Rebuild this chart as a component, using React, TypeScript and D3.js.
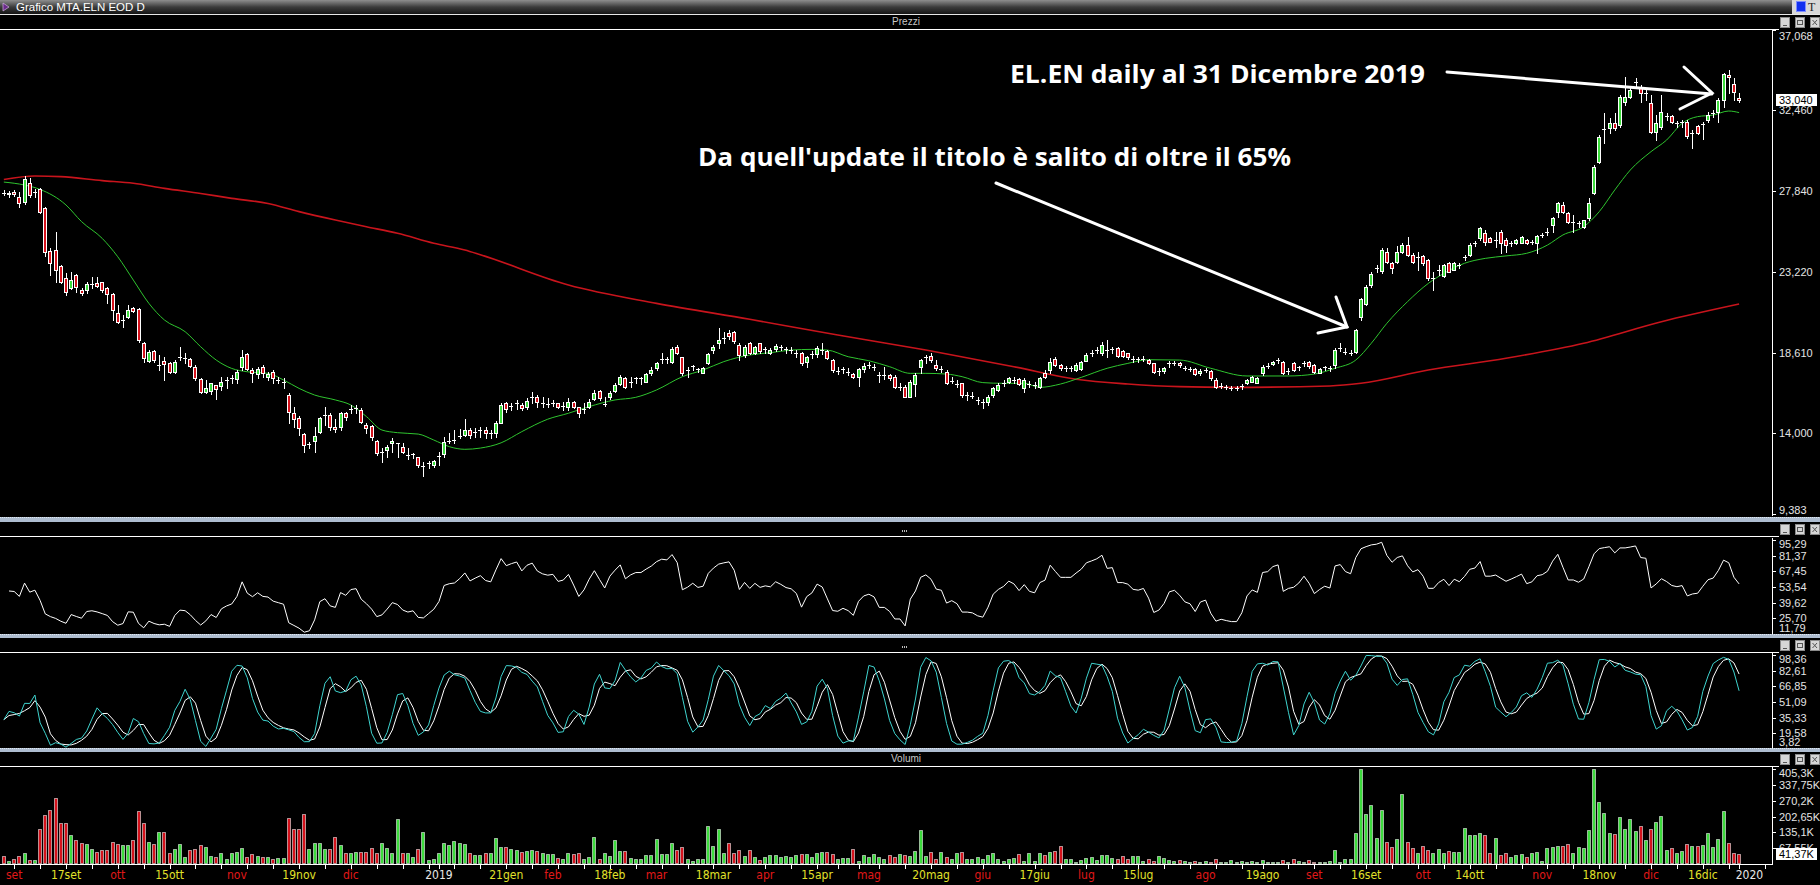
import React from 'react';
import * as d3 from 'd3';

const WIDTH = 1820;
const HEIGHT = 885;

// trading calendar (Borsa Italiana closures in the period)
const FIRST_DAY = '2018-08-30';
const HOLIDAYS = ['2018-12-24', '2018-12-25', '2018-12-26', '2018-12-31', '2019-01-01', '2019-04-19',
    '2019-04-22', '2019-05-01', '2019-08-15', '2019-12-24', '2019-12-25', '2019-12-26'];

// daily bars, 30 Aug 2018 .. 30 Dec 2019 (euro)
const OPEN = [
    27.75, 27.65, 27.8, 27.52, 27.23, 28.28, 27.8, 27.93, 26.85, 24.43,
    24.47, 23.55, 22.85, 22.28, 23.04, 22.18, 22.18, 22.55, 22.6, 22.62,
    22.28, 21.93, 20.85, 20.45, 20.66, 21.13, 21.08, 19.17, 18.14, 18.7,
    17.9, 18.12, 17.99, 17.52, 18.33, 18.27, 18.22, 17.76, 17.08, 16.37,
    16.43, 16.73, 16.7, 17.04, 17.13, 17.1, 17.8, 18.5, 17.61, 17.38,
    17.8, 17.2, 17.51, 17.04, 16.95, 16.18, 15.17, 14.85, 13.95, 13.38,
    13.57, 14.09, 15.04, 15.04, 14.33, 14.37, 15.17, 15.36, 15.42, 15.32,
    14.47, 14.41, 13.57, 12.94, 13.04, 13.42, 13.42, 13.23, 12.75, 12.8,
    12.62, 12.13, 12.28, 12.18, 12.71, 12.8, 13.57, 13.61, 13.84, 13.9,
    14.18, 14.05, 14.18, 14.18, 13.99, 13.99, 14.6, 15.71, 15.55, 15.7,
    15.61, 15.52, 16.05, 16.09, 15.71, 15.67, 15.71, 15.71, 15.57, 15.52,
    15.8, 15.48, 15.36, 15.52, 15.93, 16.41, 15.67, 16.05, 16.43, 16.81,
    17.13, 16.95, 17.13, 17.13, 16.95, 17.46, 17.71, 18.24, 18.22, 18.09,
    18.94, 18.33, 17.61, 17.84, 17.65, 17.46, 17.99, 18.75, 19.14, 19.46,
    19.7, 19.8, 19.04, 18.47, 19.18, 18.6, 19.14, 18.79, 18.56, 18.79,
    18.9, 18.79, 18.75, 18.6, 18.6, 18.09, 18.5, 18.52, 18.75, 18.7,
    18.18, 17.56, 17.65, 17.52, 17.38, 17.23, 17.65, 17.9, 17.8, 17.33,
    17.33, 17.33, 17.23, 16.66, 16.66, 16.09, 16.81, 17.76, 18.37, 18.41,
    17.9, 17.65, 17.52, 17.0, 16.81, 16.85, 16.18, 16.12, 15.9, 15.8,
    15.8, 16.18, 16.47, 16.89, 16.95, 17.04, 17.08, 16.56, 16.81, 16.76,
    16.66, 17.42, 17.61, 18.22, 17.9, 17.71, 17.71, 17.61, 17.65, 18.14,
    18.6, 18.75, 18.56, 18.75, 18.79, 18.85, 18.71, 18.56, 18.24, 18.22,
    18.26, 18.18, 17.99, 17.57, 17.57, 17.99, 18.03, 18.0, 17.71, 17.65,
    17.65, 17.42, 17.61, 17.57, 17.04, 16.7, 16.62, 16.56, 16.56, 16.7,
    16.85, 16.95, 16.89, 17.42, 17.84, 17.94, 18.18, 18.09, 17.57, 17.99,
    17.76, 18.03, 18.09, 17.9, 17.46, 17.76, 17.71, 17.9, 18.85, 18.66,
    18.6, 18.66, 20.62, 21.38, 22.47, 23.42, 23.29, 24.37, 23.7, 23.8,
    24.37, 24.75, 24.18, 24.09, 24.14, 23.9, 22.85, 23.33, 22.99, 23.75,
    23.33, 23.61, 24.05, 24.18, 24.89, 25.14, 25.42, 25.14, 25.04, 25.52,
    25.04, 24.89, 24.85, 24.89, 25.04, 24.94, 24.89, 25.33, 25.52, 25.9,
    26.66, 27.04, 26.6, 26.09, 25.99, 25.8, 26.28, 27.71, 29.52, 31.37,
    31.42, 31.7, 31.61, 32.94, 33.23, 34.09, 33.8, 33.42, 32.89, 31.23,
    31.51, 32.13, 32.13, 31.7, 31.8, 31.8, 31.13, 31.56, 31.66, 31.9,
    32.32, 32.37, 33.04, 34.47, 33.95, 33.13
];
const HIGH = [
    27.9, 27.85, 27.9, 27.8, 28.7, 28.56, 27.93, 28.0, 26.9, 24.56,
    25.5, 23.6, 23.13, 23.23, 23.1, 22.3, 22.66, 22.94, 22.94, 22.66,
    22.37, 21.99, 21.32, 20.75, 21.32, 21.23, 21.13, 19.23, 18.75, 18.75,
    18.47, 18.37, 18.08, 18.18, 18.94, 18.56, 18.28, 17.9, 17.13, 17.04,
    16.89, 16.75, 17.23, 17.23, 17.32, 17.61, 18.75, 18.56, 17.71, 17.8,
    17.9, 17.5, 17.61, 17.23, 17.13, 16.28, 15.48, 15.0, 13.99, 13.52,
    14.37, 14.95, 15.52, 15.14, 14.79, 15.23, 15.23, 15.61, 15.61, 15.42,
    14.56, 14.47, 13.61, 13.13, 13.32, 13.7, 13.42, 13.42, 13.13, 12.89,
    12.66, 12.37, 12.43, 12.47, 12.94, 13.8, 14.03, 14.18, 14.22, 14.79,
    14.28, 14.28, 14.33, 14.33, 14.18, 14.71, 15.7, 15.8, 15.75, 15.9,
    15.7, 16.0, 16.37, 16.18, 16.09, 16.0, 15.9, 15.75, 15.8, 16.0,
    15.85, 15.52, 15.71, 15.95, 16.47, 16.47, 16.09, 16.4, 16.85, 17.33,
    17.23, 17.23, 17.23, 17.23, 17.42, 17.76, 18.09, 18.56, 18.37, 18.9,
    19.04, 18.37, 17.8, 17.9, 17.71, 17.8, 18.56, 19.04, 19.99, 19.8,
    19.9, 19.85, 19.14, 19.04, 19.23, 19.0, 19.18, 18.95, 18.85, 19.09,
    19.04, 18.94, 18.9, 18.75, 18.65, 18.4, 18.7, 19.0, 19.14, 18.75,
    18.22, 17.8, 17.8, 17.7, 17.42, 17.71, 17.99, 18.05, 17.95, 17.52,
    17.8, 17.4, 17.33, 16.85, 16.76, 17.04, 17.42, 18.22, 18.47, 18.6,
    18.18, 17.85, 17.61, 17.23, 17.04, 16.89, 16.37, 16.37, 16.05, 15.95,
    16.18, 16.66, 16.85, 17.04, 17.23, 17.23, 17.15, 17.13, 17.0, 16.9,
    17.23, 17.61, 18.28, 18.37, 17.95, 17.85, 17.85, 17.99, 18.14, 18.56,
    18.75, 18.9, 19.23, 19.33, 18.95, 18.9, 18.75, 18.6, 18.4, 18.37,
    18.4, 18.22, 18.03, 17.71, 17.8, 18.14, 18.14, 18.09, 17.85, 17.8,
    17.7, 17.65, 17.7, 17.61, 17.13, 16.85, 16.75, 16.7, 16.7, 16.8,
    17.1, 17.25, 17.2, 17.9, 17.99, 18.15, 18.3, 18.14, 17.7, 18.05,
    17.85, 18.15, 18.14, 17.95, 17.7, 17.85, 17.85, 18.85, 19.14, 18.85,
    18.75, 19.95, 21.7, 22.47, 23.23, 23.61, 24.56, 24.56, 23.8, 24.7,
    24.85, 25.23, 24.3, 24.37, 24.2, 23.95, 23.23, 23.61, 23.65, 23.8,
    23.8, 23.75, 24.2, 24.85, 25.0, 25.8, 25.61, 25.2, 25.52, 25.61,
    25.14, 25.0, 25.1, 25.25, 25.1, 25.05, 25.33, 25.45, 25.7, 26.37,
    27.23, 27.23, 26.65, 26.47, 26.15, 26.2, 27.42, 29.33, 31.04, 32.28,
    32.0, 32.28, 33.33, 34.37, 33.8, 34.28, 33.9, 33.61, 33.33, 32.18,
    33.33, 32.28, 32.18, 31.85, 31.9, 31.9, 31.33, 31.61, 31.8, 32.37,
    32.47, 33.13, 34.56, 34.75, 34.28, 33.42
];
const LOW = [
    27.6, 27.5, 27.55, 26.95, 27.1, 27.5, 27.5, 26.56, 24.12, 23.04,
    22.66, 22.56, 21.9, 22.22, 22.08, 21.9, 21.99, 22.27, 22.33, 22.08,
    21.42, 20.47, 20.28, 20.09, 20.56, 20.94, 19.23, 18.08, 18.08, 18.08,
    17.6, 17.04, 17.42, 17.46, 18.18, 17.99, 17.76, 17.04, 16.31, 16.28,
    16.24, 15.93, 16.47, 16.56, 16.85, 16.85, 17.61, 17.61, 16.94, 17.13,
    17.23, 17.04, 16.85, 16.85, 16.56, 14.56, 14.37, 13.9, 12.94, 13.13,
    12.94, 14.03, 14.47, 14.18, 14.09, 14.18, 14.75, 15.14, 15.14, 14.56,
    13.99, 13.61, 12.75, 12.37, 12.66, 12.94, 12.66, 12.85, 12.5, 12.56,
    12.09, 11.55, 11.99, 12.09, 12.18, 12.66, 13.42, 13.42, 13.7, 13.84,
    13.7, 13.8, 13.8, 13.7, 13.7, 13.8, 14.56, 15.23, 15.3, 15.4,
    15.3, 15.4, 15.7, 15.52, 15.52, 15.5, 15.55, 15.45, 15.35, 15.33,
    15.45, 14.95, 15.14, 15.45, 15.9, 15.9, 15.56, 15.95, 16.37, 16.75,
    16.56, 16.66, 16.85, 16.8, 16.9, 17.33, 17.61, 17.99, 17.99, 17.99,
    18.52, 17.33, 17.23, 17.61, 17.52, 17.42, 17.95, 18.6, 18.85, 19.14,
    19.4, 19.14, 18.18, 18.37, 18.52, 18.5, 18.6, 18.6, 18.5, 18.7,
    18.75, 18.6, 18.6, 18.37, 17.9, 17.8, 18.3, 18.37, 18.5, 18.24,
    17.52, 17.4, 17.45, 17.35, 17.13, 16.7, 17.5, 17.7, 17.6, 16.95,
    17.1, 17.05, 16.56, 16.45, 16.05, 16.05, 16.13, 17.42, 18.0, 18.09,
    17.61, 17.5, 16.8, 16.85, 16.66, 16.09, 15.9, 15.99, 15.67, 15.42,
    15.61, 16.09, 16.4, 16.7, 16.85, 16.85, 16.75, 16.37, 16.65, 16.6,
    16.56, 17.13, 17.42, 17.84, 17.61, 17.55, 17.55, 17.55, 17.6, 18.1,
    18.4, 18.6, 18.47, 18.37, 18.6, 18.33, 18.37, 18.22, 18.05, 18.05,
    18.1, 17.95, 17.42, 17.33, 17.42, 17.8, 17.9, 17.8, 17.6, 17.55,
    17.3, 17.35, 17.5, 17.04, 16.56, 16.56, 16.5, 16.45, 16.45, 16.55,
    16.8, 16.9, 16.85, 17.35, 17.7, 17.9, 18.0, 17.4, 17.4, 17.55,
    17.6, 17.85, 17.75, 17.46, 17.42, 17.6, 17.55, 17.75, 18.7, 18.5,
    18.45, 18.6, 20.47, 21.33, 22.37, 23.23, 23.13, 23.7, 23.13, 23.7,
    24.3, 24.14, 23.71, 23.33, 23.6, 22.75, 22.18, 23.04, 22.9, 23.2,
    23.3, 23.45, 23.9, 24.1, 24.7, 25.04, 24.75, 24.9, 24.66, 24.28,
    24.37, 24.7, 24.8, 24.85, 24.8, 24.8, 24.32, 25.2, 25.35, 25.47,
    26.37, 26.6, 26.0, 25.52, 25.8, 25.75, 26.18, 27.66, 29.42, 30.56,
    31.13, 31.33, 31.52, 32.75, 33.13, 33.8, 32.94, 33.04, 31.13, 30.75,
    31.37, 31.9, 31.7, 31.5, 31.52, 30.85, 30.28, 31.1, 30.8, 31.8,
    32.04, 31.8, 32.66, 33.42, 33.04, 32.94
];
const CLOSE = [
    27.7, 27.7, 27.65, 27.17, 28.5, 27.6, 27.8, 26.66, 24.37, 23.74,
    23.32, 22.62, 22.08, 22.75, 22.37, 22.03, 22.5, 22.55, 22.4, 22.18,
    21.95, 21.04, 20.37, 20.45, 21.04, 21.0, 19.32, 18.27, 18.66, 18.18,
    17.9, 17.93, 17.52, 18.05, 18.33, 18.27, 17.84, 17.13, 16.37, 16.56,
    16.85, 16.5, 16.9, 17.04, 17.13, 17.48, 18.37, 17.67, 17.42, 17.65,
    17.42, 17.38, 17.13, 17.04, 16.95, 15.23, 14.79, 14.28, 13.32, 13.38,
    13.85, 14.85, 15.04, 14.37, 14.22, 15.17, 14.95, 15.36, 15.42, 14.66,
    14.28, 13.76, 12.85, 12.94, 13.23, 13.57, 13.42, 12.94, 12.75, 12.8,
    12.18, 12.13, 12.28, 12.43, 12.71, 13.47, 13.57, 13.61, 13.84, 14.18,
    13.9, 14.05, 14.18, 14.03, 13.99, 14.6, 15.6, 15.36, 15.55, 15.7,
    15.42, 15.86, 16.05, 15.8, 15.71, 15.67, 15.71, 15.52, 15.57, 15.8,
    15.52, 15.14, 15.36, 15.8, 16.28, 15.99, 15.67, 16.32, 16.76, 17.23,
    16.66, 16.95, 17.13, 17.13, 17.38, 17.61, 17.99, 18.24, 18.22, 18.79,
    18.56, 17.46, 17.61, 17.84, 17.65, 17.71, 18.5, 18.94, 19.33, 19.46,
    19.56, 19.29, 18.47, 18.9, 18.6, 18.9, 18.71, 18.79, 18.75, 18.99,
    18.9, 18.79, 18.75, 18.6, 18.03, 18.37, 18.5, 18.85, 18.75, 18.28,
    17.61, 17.56, 17.65, 17.52, 17.23, 17.65, 17.84, 17.9, 17.8, 17.33,
    17.33, 17.13, 16.66, 16.66, 16.09, 16.95, 17.33, 18.18, 18.37, 18.18,
    17.71, 17.65, 16.89, 17.0, 16.81, 16.18, 16.18, 16.12, 15.9, 15.8,
    16.09, 16.56, 16.76, 16.89, 17.13, 17.04, 16.81, 17.04, 16.81, 16.76,
    17.13, 17.23, 18.09, 17.9, 17.71, 17.71, 17.71, 17.9, 18.09, 18.47,
    18.6, 18.75, 19.04, 18.75, 18.79, 18.41, 18.41, 18.37, 18.24, 18.22,
    18.26, 18.03, 17.52, 17.57, 17.71, 17.99, 18.03, 17.9, 17.71, 17.65,
    17.38, 17.57, 17.61, 17.13, 16.66, 16.7, 16.62, 16.56, 16.56, 16.7,
    17.04, 17.19, 17.13, 17.8, 17.84, 18.09, 18.18, 17.46, 17.57, 17.61,
    17.76, 18.03, 17.84, 17.52, 17.65, 17.76, 17.71, 18.75, 18.85, 18.66,
    18.6, 19.9, 21.65, 22.37, 23.1, 23.42, 24.47, 23.8, 23.42, 24.37,
    24.75, 24.18, 23.8, 24.09, 23.7, 22.85, 22.85, 23.33, 23.61, 23.23,
    23.75, 23.61, 24.05, 24.75, 24.89, 25.71, 24.94, 24.94, 25.04, 24.89,
    24.75, 24.89, 25.04, 25.2, 24.85, 24.94, 25.27, 25.33, 25.52, 26.28,
    27.14, 26.66, 26.09, 26.09, 25.99, 26.18, 27.14, 29.23, 30.95, 31.37,
    31.75, 31.42, 33.23, 33.23, 33.61, 34.09, 33.46, 33.42, 31.23, 31.7,
    32.37, 32.13, 31.8, 31.7, 31.8, 30.99, 31.13, 31.18, 31.66, 32.18,
    32.32, 33.04, 34.51, 34.37, 33.51, 33.04
];
// volumes in thousands of shares
const VOLUME_K = [
    34, 14, 20, 34, 45, 17, 17, 150, 210, 230,
    280, 175, 175, 124, 103, 88, 85, 63, 53, 60,
    60, 95, 85, 81, 81, 103, 226, 175, 95, 85,
    138, 138, 45, 63, 85, 31, 60, 63, 81, 74,
    34, 31, 45, 20, 45, 53, 67, 28, 43, 34,
    28, 31, 20, 24, 24, 195, 150, 150, 215, 63,
    91, 88, 63, 63, 117, 81, 45, 48, 53, 53,
    53, 67, 45, 91, 67, 45, 190, 45, 48, 31,
    63, 138, 17, 20, 48, 91, 81, 100, 91, 85,
    45, 38, 38, 45, 48, 110, 74, 74, 63, 60,
    53, 57, 60, 57, 45, 43, 43, 24, 20, 45,
    43, 45, 20, 28, 117, 20, 45, 34, 103, 57,
    57, 24, 20, 20, 38, 38, 105, 43, 43, 91,
    60, 74, 20, 14, 20, 20, 160, 77, 150, 48,
    88, 48, 60, 34, 60, 28, 17, 28, 38, 38,
    31, 34, 28, 38, 43, 43, 31, 45, 53, 53,
    43, 20, 24, 24, 63, 14, 38, 31, 43, 31,
    20, 38, 31, 43, 38, 34, 57, 145, 34, 53,
    20, 53, 31, 20, 48, 53, 20, 20, 31, 20,
    38, 45, 20, 14, 20, 24, 43, 14, 45, 14,
    48, 38, 53, 57, 77, 20, 20, 10, 17, 24,
    28, 17, 38, 38, 24, 20, 34, 20, 34, 34,
    14, 20, 14, 34, 24, 17, 14, 17, 14, 10,
    14, 10, 14, 10, 20, 10, 10, 17, 10, 14,
    10, 14, 10, 17, 10, 10, 10, 17, 10, 20,
    14, 10, 17, 10, 8, 10, 12, 60, 8, 20,
    20, 131, 405, 215, 250, 110, 230, 95, 74, 105,
    300, 95, 67, 45, 77, 60, 45, 63, 48, 57,
    53, 53, 152, 124, 124, 131, 124, 45, 110, 38,
    48, 28, 38, 43, 28, 48, 53, 14, 67, 74,
    77, 77, 85, 48, 74, 67, 145, 405, 265, 218,
    131, 128, 200, 150, 190, 141, 160, 103, 150, 180,
    205, 60, 67, 45, 57, 85, 75, 77, 81, 132,
    74, 107, 224, 88, 47, 41.37
];

// moving averages: [bar number, value]
const MA_FAST = [
    [0, 28.35], [4, 28.18], [7, 27.93], [12, 27.04], [15, 26.09], [19, 25.13], [22, 24.08], [25, 22.75],
    [28, 21.42], [31, 20.47], [35, 19.8], [38, 18.94], [41, 18.18], [44, 17.7], [47, 17.51], [51, 17.42],
    [54, 17.04], [57, 16.56], [60, 16.18], [64, 15.9], [67, 15.61], [70, 14.95], [73, 14.18], [76, 14.03],
    [80, 13.95], [83, 13.61], [86, 13.23], [89, 13.08], [92, 13.15], [96, 13.45], [100, 14.09], [105, 14.8],
    [109, 15.14], [113, 15.52], [118, 15.9], [122, 16.05], [126, 16.47], [131, 17.23], [135, 17.61], [139, 18.09],
    [144, 18.47], [148, 18.6], [152, 18.75], [156, 18.79], [159, 18.75], [163, 18.37], [167, 18.14], [171, 17.8],
    [175, 17.42], [178, 17.42], [182, 17.38], [185, 17.23], [189, 16.89], [193, 16.85], [197, 16.85], [200, 16.62],
    [204, 16.81], [208, 17.19], [213, 17.71], [217, 17.99], [221, 18.2], [227, 18.18], [233, 17.71], [240, 17.27],
    [248, 17.27], [253, 17.38], [257, 17.71], [261, 18.18], [264, 19.14], [267, 20.28], [271, 21.52], [275, 22.56],
    [278, 23.13], [282, 23.71], [286, 23.99], [290, 24.13], [294, 24.28], [298, 24.75], [301, 25.33], [305, 25.8],
    [308, 26.66], [311, 27.9], [314, 29.04], [318, 30.09], [321, 30.75], [324, 31.71], [327, 32.09], [330, 32.18],
    [333, 32.41], [335, 32.32]
];
const MA_SLOW = [
    [0, 28.5], [6, 28.7], [11, 28.66], [19, 28.43], [25, 28.28], [31, 27.99], [38, 27.7], [44, 27.42],
    [51, 27.13], [57, 26.66], [64, 26.18], [70, 25.8], [76, 25.42], [83, 24.85], [89, 24.47], [92, 24.2],
    [109, 22.47], [126, 21.42], [144, 20.51], [161, 19.61], [178, 18.75], [195, 17.8], [207, 17.08], [217, 16.81],
    [227, 16.66], [237, 16.62], [256, 16.7], [262, 16.85], [275, 17.61], [290, 18.28], [305, 19.14], [320, 20.37],
    [335, 21.38]
];

const PRICE_TICKS = [37.068, 32.46, 27.84, 23.22, 18.61, 14.0, 9.383];
const RSI_TICKS = [95.29, 81.37, 67.45, 53.54, 39.62, 25.7, 11.79];
const STOCH_TICKS = [98.36, 82.61, 66.85, 51.09, 35.33, 19.58, 3.82];
const VOLUME_TICKS = [405.3, 337.75, 270.2, 202.65, 135.1, 67.55];

const DATE_LABELS = [
    ['2018-09-03', 'set', 'm'], ['2018-09-17', '17set', 'd'], ['2018-10-01', 'ott', 'm'], ['2018-10-15', '15ott', 'd'],
    ['2018-11-01', 'nov', 'm'], ['2018-11-19', '19nov', 'd'], ['2018-12-03', 'dic', 'm'], ['2019-01-02', '2019', 'y'],
    ['2019-01-21', '21gen', 'd'], ['2019-02-01', 'feb', 'm'], ['2019-02-18', '18feb', 'd'], ['2019-03-01', 'mar', 'm'],
    ['2019-03-18', '18mar', 'd'], ['2019-04-01', 'apr', 'm'], ['2019-04-15', '15apr', 'd'], ['2019-05-02', 'mag', 'm'],
    ['2019-05-20', '20mag', 'd'], ['2019-06-03', 'giu', 'm'], ['2019-06-17', '17giu', 'd'], ['2019-07-01', 'lug', 'm'],
    ['2019-07-15', '15lug', 'd'], ['2019-08-01', 'ago', 'm'], ['2019-08-19', '19ago', 'd'], ['2019-09-02', 'set', 'm'],
    ['2019-09-16', '16set', 'd'], ['2019-10-01', 'ott', 'm'], ['2019-10-14', '14ott', 'd'], ['2019-11-01', 'nov', 'm'],
    ['2019-11-18', '18nov', 'd'], ['2019-12-02', 'dic', 'm'], ['2019-12-16', '16dic', 'd'], ['2020-01-01', '2020', 'y']
];

const GREEN = '#3ddc3d';
const RED = '#d5121c';
const AXIS_FONT = 'Liberation Sans, Arial, sans-serif';
const LABEL_COLORS = { m: '#e01818', d: '#e2e22a', y: '#e8e8e8' };

// panel geometry
const AXIS_X = 1772;
const PANELS = {
    price: { header: 15, top: 30, bottom: 516 },
    rsi: { header: 523, top: 538, bottom: 634 },
    stoch: { header: 638, top: 653, bottom: 748 },
    volume: { header: 753, top: 767, bottom: 864 }
};

function buildCalendar(bars, extra) {
    const out = [];
    const d = new Date(FIRST_DAY + 'T00:00:00Z');
    while (out.length < bars + extra) {
        const iso = d.toISOString().slice(0, 10);
        const dow = d.getUTCDay();
        const closed = out.length < bars && HOLIDAYS.includes(iso);
        if (dow > 0 && dow < 6 && !closed) out.push(iso);
        d.setUTCDate(d.getUTCDate() + 1);
    }
    return out;
}

// Wilder RSI, seeded with the mean absolute move of the first bars
function rsiSeries(close, period) {
    const moves = d3.range(1, period + 1).map(k => Math.abs(close[k] - close[k - 1]));
    let ag = d3.mean(moves) / 2, al = ag;
    const out = [null];
    for (let k = 1; k < close.length; k++) {
        const ch = close[k] - close[k - 1];
        ag = (ag * (period - 1) + Math.max(ch, 0)) / period;
        al = (al * (period - 1) + Math.max(-ch, 0)) / period;
        out.push(al === 0 ? 100 : 100 - 100 / (1 + ag / al));
    }
    return out;
}

function stochSeries(high, low, close, period, slowing, signal) {
    const raw = close.map((c, k) => {
        const s = Math.max(0, k - period + 1);
        const hh = d3.max(high.slice(s, k + 1));
        const ll = d3.min(low.slice(s, k + 1));
        return hh === ll ? 50 : (c - ll) / (hh - ll) * 100;
    });
    const sma = (arr, n) => arr.map((_, k) => d3.mean(arr.slice(Math.max(0, k - n + 1), k + 1)));
    const k = sma(raw, slowing);
    return { k, d: sma(k, signal) };
}

const comma = (v, dec) => v.toFixed(dec).replace('.', ',');

function Buttons({ y }) {
    return (
        <g>
            {[1780, 1795, 1810].map((bx, j) => (
                <g key={j}>
                    <rect x={bx + 0.5} y={y + 0.5} width={9} height={10} fill="#d6d6d6" stroke="#8a8a8a" />
                    {j === 0 && <line x1={bx + 3} x2={bx + 7} y1={y + 8.5} y2={y + 8.5} stroke="#555" />}
                    {j === 1 && <rect x={bx + 2.5} y={y + 3.5} width={5} height={4} fill="none" stroke="#555" />}
                    {j === 2 && <path d={`M${bx + 2.5},${y + 3} L${bx + 7},${y + 8} M${bx + 7},${y + 3} L${bx + 2.5},${y + 8}`} stroke="#555" />}
                </g>
            ))}
        </g>
    );
}

function Header({ y, label }) {
    return (
        <g>
            <rect x={0} y={y} width={WIDTH} height={14} fill="#000" />
            <line x1={0} x2={1779} y1={y + 14.5} y2={y + 14.5} stroke="#fff" />
            {label === 'dots'
                ? [0, 2, 4].map(d => <rect key={d} x={902 + d} y={y + 8} width={1} height={2} fill="#bbb" />)
                : <text x={906} y={y + 10} fill="#c8c8c8" fontSize={10} fontFamily={AXIS_FONT} textAnchor="middle">{label}</text>}
            <Buttons y={y + 2} />
        </g>
    );
}

function Separator({ y, h }) {
    return (
        <g>
            <rect x={0} y={y} width={WIDTH} height={h} fill="#aebdd0" />
            <line x1={0} x2={WIDTH} y1={y + 0.5} y2={y + 0.5} stroke="#dfe7f0" strokeDasharray="1,1" />
        </g>
    );
}

function RightAxis({ scale, ticks, fmt, top, bottom }) {
    return (
        <g fontFamily={AXIS_FONT} fontSize={11} fill="#e4e4e4">
            <line x1={AXIS_X + 0.5} x2={AXIS_X + 0.5} y1={top} y2={bottom} stroke="#fff" />
            {ticks.map((t, j) => {
                const ty = Math.round(scale(t)) + 0.5;
                const ly = Math.min(Math.max(ty, top + 6), bottom - 6);
                return (
                    <g key={j}>
                        <line x1={AXIS_X} x2={AXIS_X + 4} y1={ty} y2={ty} stroke="#fff" />
                        <text x={AXIS_X + 7} y={ly} dy="0.35em">{fmt(t)}</text>
                    </g>
                );
            })}
        </g>
    );
}

export default function App() {
    const n = CLOSE.length;
    const days = buildCalendar(n, 8);
    const x = d3.scaleLinear().domain([0, n - 1]).range([3.84, 1739.1]);

    const yPrice = d3.scaleLinear().domain([9.383, 37.068]).range([514, 29.5]);
    const yRsi = d3.scaleLinear().domain([11.79, 95.29]).range([634, 540]);
    const yStoch = d3.scaleLinear().domain([3.82, 98.36]).range([749, 655]);
    const yVol = d3.scaleLinear().domain([0, 405.3]).range([864, 769]);

    const rsi = rsiSeries(CLOSE, 9);
    const stoch = stochSeries(HIGH, LOW, CLOSE, 5, 3, 3);

    const maLine = d3.line().x(d => x(d[0])).y(d => yPrice(d[1])).curve(d3.curveMonotoneX);
    const seriesLine = (scale) => d3.line()
        .defined(d => d != null)
        .x((_, k) => x(k))
        .y(d => scale(d));

    // weekly ticks: first trading day of every week
    const weekTicks = [];
    days.forEach((iso, k) => {
        if (k === 0) return;
        const a = new Date(iso + 'T00:00:00Z'), b = new Date(days[k - 1] + 'T00:00:00Z');
        if (a.getUTCDay() < b.getUTCDay() || (a - b) / 864e5 >= 7) weekTicks.push(k);
    });

    const lastClose = CLOSE[n - 1];
    const lastVol = VOLUME_K[n - 1];

    return (
        <div style={{ position: 'fixed', left: 0, top: 0, width: WIDTH, height: HEIGHT, background: '#000' }}>
            <svg width={WIDTH} height={HEIGHT} style={{ display: 'block' }}>
                <defs>
                    <linearGradient id="titleGrad" x1="0" y1="0" x2="0" y2="1">
                        <stop offset="0" stopColor="#8e8e8e" />
                        <stop offset="0.5" stopColor="#3c3c3c" />
                        <stop offset="1" stopColor="#141414" />
                    </linearGradient>
                    <clipPath id="clipPrice"><rect x={0} y={PANELS.price.top} width={AXIS_X} height={PANELS.price.bottom - PANELS.price.top} /></clipPath>
                    <clipPath id="clipRsi"><rect x={0} y={PANELS.rsi.top} width={AXIS_X} height={PANELS.rsi.bottom - PANELS.rsi.top} /></clipPath>
                    <clipPath id="clipStoch"><rect x={0} y={PANELS.stoch.top} width={AXIS_X} height={PANELS.stoch.bottom - PANELS.stoch.top} /></clipPath>
                </defs>
                <rect width={WIDTH} height={HEIGHT} fill="#000" />

                {/* window title bar */}
                <rect x={0} y={0} width={WIDTH} height={14} fill="url(#titleGrad)" />
                <rect x={1792} y={0} width={28} height={14} fill="#d8d8d8" />
                <path d="M3,3 L9,7 L3,11 Z" fill="#6a2a8a" stroke="#d0b0e0" strokeWidth={0.7} />
                <text x={16} y={11} fill="#fff" fontSize={11.5} fontFamily={AXIS_FONT}>Grafico MTA.ELN EOD D</text>
                <rect x={1796.5} y={1.5} width={9} height={10} fill="#1230f0" stroke="#7d8cff" />
                <text x={1808} y={11} fill="#222" fontSize={12} fontFamily="Liberation Serif, serif">T</text>
                <line x1={0} x2={WIDTH} y1={14.5} y2={14.5} stroke="#e6e6e6" />

                {/* ===== prices ===== */}
                <Header y={PANELS.price.header} label="Prezzi" />
                <g clipPath="url(#clipPrice)">
                    <path d={maLine(MA_SLOW)} fill="none" stroke="#c8141c" strokeWidth={1.6} />
                    <path d={maLine(MA_FAST)} fill="none" stroke="#2fc42f" strokeWidth={1} />
                    {CLOSE.map((c, k) => {
                        const o = OPEN[k];
                        const cx = Math.round(x(k));
                        const yt = Math.round(yPrice(Math.max(o, c)));
                        const yb = Math.round(yPrice(Math.min(o, c)));
                        return (
                            <g key={k}>
                                <line x1={cx + 0.5} x2={cx + 0.5} y1={Math.round(yPrice(HIGH[k]))} y2={Math.round(yPrice(LOW[k])) + 1} stroke="#fff" />
                                {yb - yt < 1
                                    ? <line x1={cx - 2} x2={cx + 2} y1={yt + 0.5} y2={yt + 0.5} stroke="#fff" />
                                    : <rect x={cx - 1.5} y={yt + 0.5} width={3} height={yb - yt} fill={c >= o ? GREEN : RED} stroke="#fff" />}
                            </g>
                        );
                    })}
                </g>
                <RightAxis scale={yPrice} ticks={PRICE_TICKS} fmt={v => comma(v, 3)} top={PANELS.price.top} bottom={PANELS.price.bottom} />
                <rect x={1776} y={Math.round(yPrice(lastClose)) - 6} width={41} height={12} fill="#fff" />
                <text x={1779} y={Math.round(yPrice(lastClose))} dy="0.35em" fontSize={11} fontFamily={AXIS_FONT} fill="#000">{comma(lastClose, 3)}</text>

                {/* annotations */}
                <g fontFamily="'Open Sans', Lato, sans-serif" fontWeight="bold" fontSize={25} fill="#fff">
                    <text x={1010} y={83} textLength={415} lengthAdjust="spacingAndGlyphs">EL.EN daily al 31 Dicembre 2019</text>
                    <text x={698} y={166} textLength={593} lengthAdjust="spacingAndGlyphs">Da quell'update il titolo è salito di oltre il 65%</text>
                </g>
                <g stroke="#fff" strokeWidth={3} fill="none" strokeLinecap="round">
                    <path d="M1447,72 L1712,94" />
                    <path d="M1684,67 L1712,93 L1680,109" />
                    <path d="M996,183 L1347,327" />
                    <path d="M1336,297 L1347,327 L1318,333" />
                </g>

                {/* ===== RSI ===== */}
                <Separator y={517} h={5} />
                <Header y={PANELS.rsi.header - 1} label="dots" />
                <g clipPath="url(#clipRsi)">
                    <path d={seriesLine(yRsi)(rsi)} fill="none" stroke="#fff" strokeWidth={1} />
                </g>
                <RightAxis scale={yRsi} ticks={RSI_TICKS} fmt={v => comma(v, 2)} top={PANELS.rsi.top} bottom={PANELS.rsi.bottom} />

                {/* ===== Stochastic ===== */}
                <Separator y={634} h={4} />
                <Header y={PANELS.stoch.header} label="dots" />
                <g clipPath="url(#clipStoch)">
                    <path d={seriesLine(yStoch)(stoch.d)} fill="none" stroke="#fff" strokeWidth={1} />
                    <path d={seriesLine(yStoch)(stoch.k)} fill="none" stroke="#3fd4cf" strokeWidth={1} />
                </g>
                <RightAxis scale={yStoch} ticks={STOCH_TICKS} fmt={v => comma(v, 2)} top={PANELS.stoch.top} bottom={PANELS.stoch.bottom} />

                {/* ===== Volume ===== */}
                <Separator y={748} h={5} />
                <Header y={PANELS.volume.header - 1} label="Volumi" />
                {VOLUME_K.map((v, k) => {
                    const cx = Math.round(x(k));
                    const yt = Math.round(yVol(v));
                    return (
                        <rect key={k} x={cx - 1.5} y={yt + 0.5} width={3} height={Math.max(0, 864 - yt - 1)}
                            fill={CLOSE[k] >= OPEN[k] ? GREEN : RED} stroke="#fff" strokeOpacity={0.55} />
                    );
                })}
                <RightAxis scale={yVol} ticks={VOLUME_TICKS} fmt={v => String(v).replace('.', ',') + 'K'} top={PANELS.volume.top} bottom={PANELS.volume.bottom} />
                <rect x={1776} y={Math.round(yVol(lastVol)) - 6} width={41} height={12} fill="#fff" />
                <text x={1779} y={Math.round(yVol(lastVol))} dy="0.35em" fontSize={11} fontFamily={AXIS_FONT} fill="#000">{comma(lastVol, 2) + 'K'}</text>

                {/* ===== date axis ===== */}
                <line x1={0} x2={AXIS_X + 1} y1={864.5} y2={864.5} stroke="#fff" />
                {weekTicks.filter(k => x(k) < AXIS_X - 2).map(k => (
                    <line key={k} x1={Math.round(x(k)) + 0.5} x2={Math.round(x(k)) + 0.5} y1={865} y2={869} stroke="#fff" />
                ))}
                <g fontFamily="'Liberation Sans Narrow', 'DejaVu Sans Condensed', 'Arial Narrow', sans-serif" fontSize={12} textAnchor="middle">
                    {DATE_LABELS.map(([iso, txt, kind], j) => {
                        const k = days.indexOf(iso);
                        if (k < 0) return null;
                        return <text key={j} x={x(k)} y={879} fill={LABEL_COLORS[kind]}>{txt}</text>;
                    })}
                </g>
            </svg>
        </div>
    );
}
